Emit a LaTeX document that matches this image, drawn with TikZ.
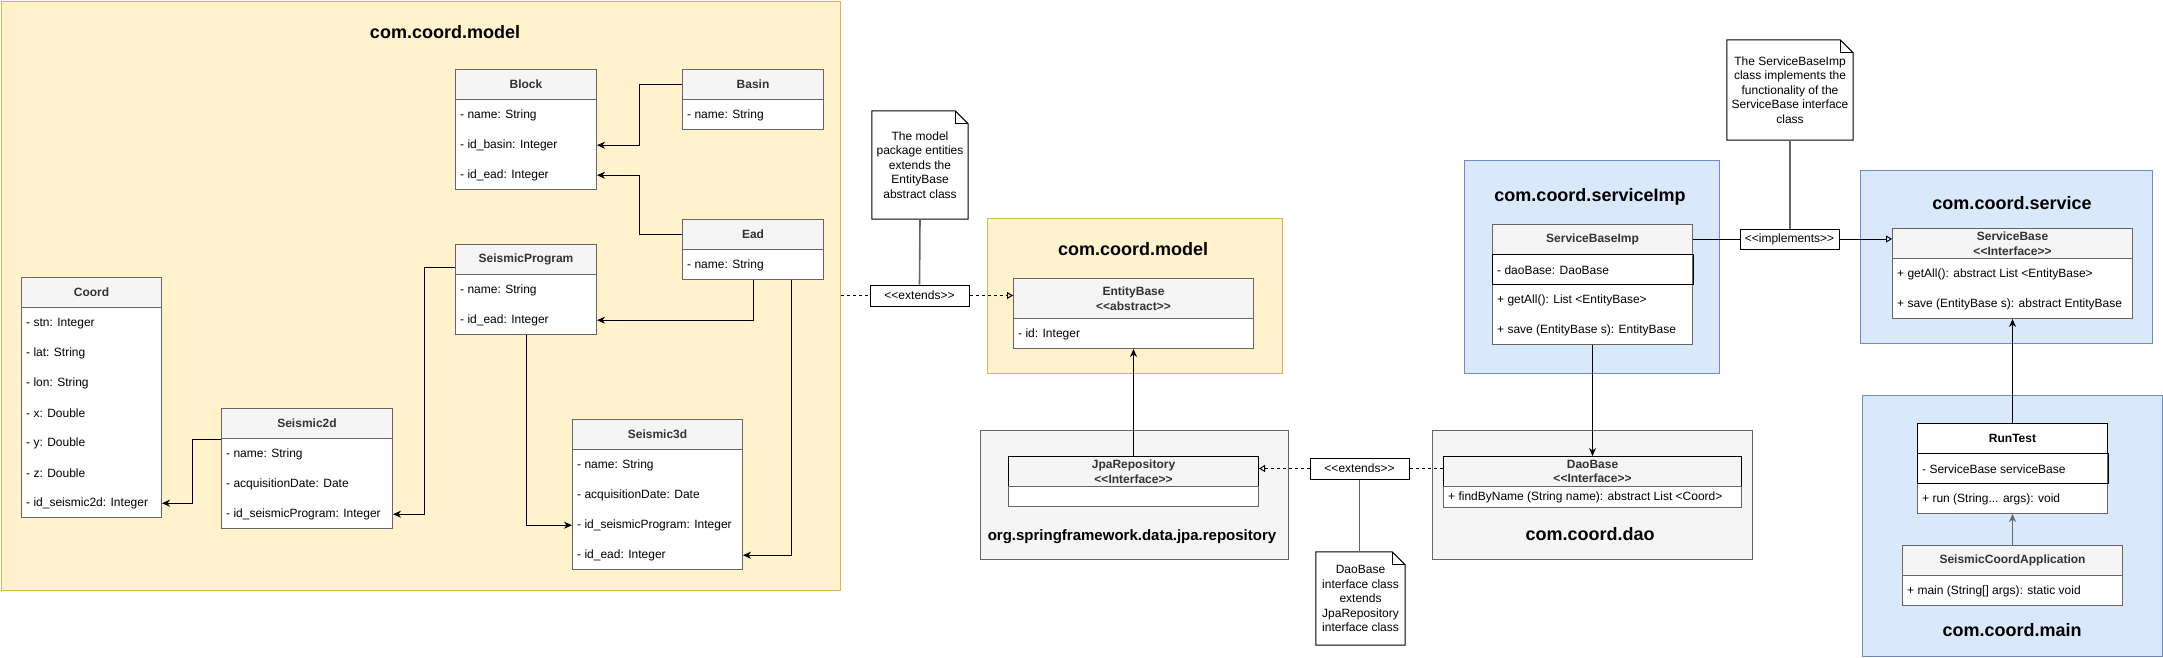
\documentclass[tikz,border=0pt]{standalone}
\usepackage{fontspec}
\setmainfont{Liberation Sans}
\usetikzlibrary{arrows.meta,calc}
\definecolor{cgray}{HTML}{666666}
\definecolor{chdr}{HTML}{F5F5F5}
\definecolor{ctxt}{HTML}{333333}
\definecolor{yfill}{HTML}{FFF2CC}
\definecolor{yline}{HTML}{D6B656}
\definecolor{bfill}{HTML}{DAE8FC}
\definecolor{bline}{HTML}{6C8EBF}
\newcommand\sopen{<\kern0pt<}
\newcommand\sclose{>\kern0pt>}
% [header extra style]{name}{x}{top}{width}{header height}{body height}{header text}
\newcommand\umlcls[8][]{%
  \node[hdr,minimum width=#5,minimum height=#6,#1] (#2-h) at (#3,#4) {#8};
  \node[bodyb,minimum width=#5,minimum height=#7] (#2-b) at (#3,{#4+#6}) {};
}
% {name}{index}{row height}{text}
\newcommand\umlrow[4]{%
  \node[rowt] (#1-r#2) at ($(#1-b.north west)+(5,{#3*(#2-0.5)+1.2})$) {#4};
}
\newcommand\notefold[1]{%
  \draw[black,line width=1pt] (#1.north west) -- ([xshift=-13pt]#1.north east) -- ([yshift=-13pt]#1.north east) -- (#1.south east) -- (#1.south west) -- cycle;
  \draw[black,line width=0.8pt] ([xshift=-13pt]#1.north east) -- ([xshift=-13pt,yshift=-13pt]#1.north east) -- ([yshift=-13pt]#1.north east);
}
\begin{document}
\begin{tikzpicture}[x=1pt,y=-1pt,
  hdr/.style={anchor=north west,draw=cgray,fill=chdr,text=ctxt,line width=1pt,inner sep=0pt,align=center,
    font=\bfseries\fontsize{12}{14.5}\selectfont},
  bodyb/.style={anchor=north west,draw=cgray,fill=white,line width=1pt,inner sep=0pt},
  rowt/.style={anchor=west,inner sep=0pt,text=black,font=\fontsize{12}{14.5}\selectfont},
  pkg/.style={anchor=north west,line width=1pt,inner sep=0pt},
  ptitle/.style={inner sep=0pt,text=black,font=\bfseries\fontsize{18}{22}\selectfont},
  lbl/.style={draw=black,fill=white,line width=1pt,inner sep=0pt,font=\fontsize{12}{14}\selectfont},
  notebox/.style={inner sep=0pt,align=center,font=\fontsize{12}{14.5}\selectfont},
  assoc/.style={line width=1pt,-{Stealth[length=8pt,width=7pt,inset=2.5pt]}},
  opentri/.style={-{Triangle[open,length=6pt,width=7pt,fill=white]}},
  dashline/.style={line width=1pt,dash pattern=on 3pt off 3pt},
  noteline/.style={draw=cgray,line width=1.6pt}]
\fill[white] (0,0) rectangle (2163,657);
\useasboundingbox (0,0) rectangle (2163,657);

% ---------- packages ----------
\node[pkg,fill=yfill,draw=yline,minimum width=839,minimum height=589] (pkgmodel) at (0.5,0.5) {};
\node[ptitle] (tmodel) at (445,32) {com.coord.model};
\node[pkg,fill=yfill,draw=yline,minimum width=295,minimum height=155] (pkgmodel2) at (987,218) {};
\node[ptitle] (tmodel2) at (1133,249) {com.coord.model};
\node[pkg,fill=chdr,draw=cgray,minimum width=308,minimum height=129] (pkgjpa) at (980,430) {};
\node[inner sep=0pt,font=\bfseries\fontsize{15}{18}\selectfont] (tjpa) at (1132,537) {org.springframework.data.jpa.repository};
\node[pkg,fill=chdr,draw=cgray,minimum width=320,minimum height=129] (pkgdao) at (1432,430) {};
\node[ptitle] (tdao) at (1590,534) {com.coord.dao};
\node[pkg,fill=bfill,draw=bline,minimum width=255,minimum height=213] (pkgsimp) at (1464,160) {};
\node[ptitle] (tsimp) at (1590,197) {com.coord.serviceImp};
\node[pkg,fill=bfill,draw=bline,minimum width=292,minimum height=173] (pkgserv) at (1860,170) {};
\node[ptitle] (tserv) at (2012,203) {com.coord.service};
\node[pkg,fill=bfill,draw=bline,minimum width=300,minimum height=261] (pkgmain) at (1862,395) {};
\node[ptitle] (tmain) at (2012,630) {com.coord.main};

% ---------- model classes ----------
\umlcls{block}{455}{69}{141}{30}{90}{Block}
\umlrow{block}{1}{30}{- name: String}
\umlrow{block}{2}{30}{- id\_basin: Integer}
\umlrow{block}{3}{30}{- id\_ead: Integer}

\umlcls{basin}{682}{69}{141}{30}{30}{Basin}
\umlrow{basin}{1}{30}{- name: String}

\umlcls{ead}{682}{219}{141}{30}{30}{Ead}
\umlrow{ead}{1}{30}{- name: String}

\umlcls{sp}{455}{244}{141}{30}{60}{SeismicProgram}
\umlrow{sp}{1}{30}{- name: String}
\umlrow{sp}{2}{30}{- id\_ead: Integer}

\umlcls{coord}{21}{277}{140}{30}{210}{Coord}
\umlrow{coord}{1}{30}{- stn: Integer}
\umlrow{coord}{2}{30}{- lat: String}
\umlrow{coord}{3}{30}{- lon: String}
\umlrow{coord}{4}{30}{- x: Double}
\umlrow{coord}{5}{30}{- y: Double}
\umlrow{coord}{6}{30}{- z: Double}
\umlrow{coord}{7}{30}{- id\_seismic2d: Integer}

\umlcls{sd2}{221}{408}{171}{30}{90}{Seismic2d}
\umlrow{sd2}{1}{30}{- name: String}
\umlrow{sd2}{2}{30}{- acquisitionDate: Date}
\umlrow{sd2}{3}{30}{- id\_seismicProgram: Integer}

\umlcls{sd3}{572}{419}{170}{30}{120}{Seismic3d}
\umlrow{sd3}{1}{30}{- name: String}
\umlrow{sd3}{2}{30}{- acquisitionDate: Date}
\umlrow{sd3}{3}{30}{- id\_seismicProgram: Integer}
\umlrow{sd3}{4}{30}{- id\_ead: Integer}

% ---------- other classes ----------
\umlcls{ent}{1013}{278}{240}{40}{30}{EntityBase\\\sopen abstract\sclose}
\umlrow{ent}{1}{30}{- id: Integer}

\umlcls[draw=black]{jpa}{1008}{456}{250}{30}{20}{JpaRepository\\\sopen Interface\sclose}

\umlcls[draw=black]{dao}{1443}{456}{298}{30}{21}{DaoBase\\\sopen Interface\sclose}
\umlrow{dao}{1}{21}{+ findByName (String name): abstract List <Coord>}

\umlcls{sbi}{1492}{224}{200}{30}{90}{ServiceBaseImp}
\umlrow{sbi}{1}{30}{- daoBase: DaoBase}
\umlrow{sbi}{2}{30}{+ getAll(): List <EntityBase>}
\umlrow{sbi}{3}{30}{+ save (EntityBase s): EntityBase}
\draw[black,line width=1pt] (sbi-b.north west) rectangle ($(sbi-b.north east)+(0,30)$);

\umlcls{sb}{1892}{228}{240}{30}{60}{ServiceBase\\\sopen Interface\sclose}
\umlrow{sb}{1}{30}{+ getAll(): abstract List <EntityBase>}
\umlrow{sb}{2}{30}{+ save (EntityBase s): abstract EntityBase}

\umlcls[draw=black,fill=white,text=black]{rt}{1917}{423}{190}{30}{60}{RunTest}
\umlrow{rt}{1}{30}{- ServiceBase serviceBase}
\umlrow{rt}{2}{30}{+ run (String... args): void}
\draw[black,line width=1pt] (rt-b.north west) rectangle ($(rt-b.north east)+(0,30)$);

\umlcls{sca}{1902}{545}{220}{30}{30}{SeismicCoordApplication}
\umlrow{sca}{1}{30}{+ main (String[] args): static void}

% ---------- model associations ----------
\draw[assoc] (basin-h.west) -- ++(-43,0) |- (block-b.east |- block-r2);
\draw[assoc] (ead-h.west) -- ++(-43,0) |- (block-b.east |- block-r3);
\draw[assoc] (ead-b.south) |- (sp-b.east |- sp-r2);
\draw[assoc] ([xshift=38.5pt]ead-b.south) |- (sd3-b.east |- sd3-r4);
\draw[assoc] ([yshift=-8pt]sp-h.west) -- ++(-31,0) |- (sd2-b.east |- sd2-r3);
\draw[assoc] (sp-b.south) |- (sd3-b.west |- sd3-r3);
\draw[assoc] (sd2-h.south west) -- ++(-29,0) |- (coord-b.east |- coord-r7);

% ---------- extends (model) ----------
\node[lbl,minimum width=99,minimum height=21] (ext1) at (919.5,295.5) {\sopen extends\sclose};
\draw[dashline] (pkgmodel.east |- ext1) -- (ext1.west);
\draw[dashline,opentri] (ext1.east) -- (ent-h.west |- ext1);
\node[notebox,minimum width=96,minimum height=108] (note1) at (920,165) {The model\\package entities\\extends the\\EntityBase\\abstract class};
\notefold{note1}
\draw[noteline] (note1.south) -- (ext1.north);

% ---------- extends (dao) ----------
\node[lbl,minimum width=99,minimum height=21] (ext2) at (1359.5,468.5) {\sopen extends\sclose};
\draw[dashline] (dao-h.west |- ext2) -- (ext2.east);
\draw[dashline,opentri] (ext2.west) -- (jpa-h.east |- ext2);
\node[notebox,minimum width=89,minimum height=93] (note2) at (1360.5,598.5) {DaoBase\\interface class\\extends\\JpaRepository\\interface class};
\notefold{note2}
\draw[noteline] (ext2.south) -- (ext2.south |- note2.north);

% ---------- implements ----------
\node[lbl,minimum width=99,minimum height=20] (impl) at (1789.5,239) {\sopen implements\sclose};
\draw[line width=1pt] (sbi-h.east |- impl) -- (impl.west);
\draw[line width=1pt,opentri] (impl.east) -- (sb-h.west |- impl);
\node[notebox,minimum width=126,minimum height=100] (note3) at (1790,90) {The ServiceBaseImp\\class implements the\\functionality of the\\ServiceBase interface\\class};
\notefold{note3}
\draw[noteline] (note3.south) -- (note3.south |- impl.north);

% ---------- dependencies ----------
\draw[assoc] (jpa-h.north) -- (ent-b.south);
\draw[assoc] (sbi-b.south) -- (dao-h.north);
\draw[assoc] (rt-h.north) -- (sb-b.south);
\draw[assoc,cgray] (sca-h.north) -- (rt-b.south);
\end{tikzpicture}
\end{document}
